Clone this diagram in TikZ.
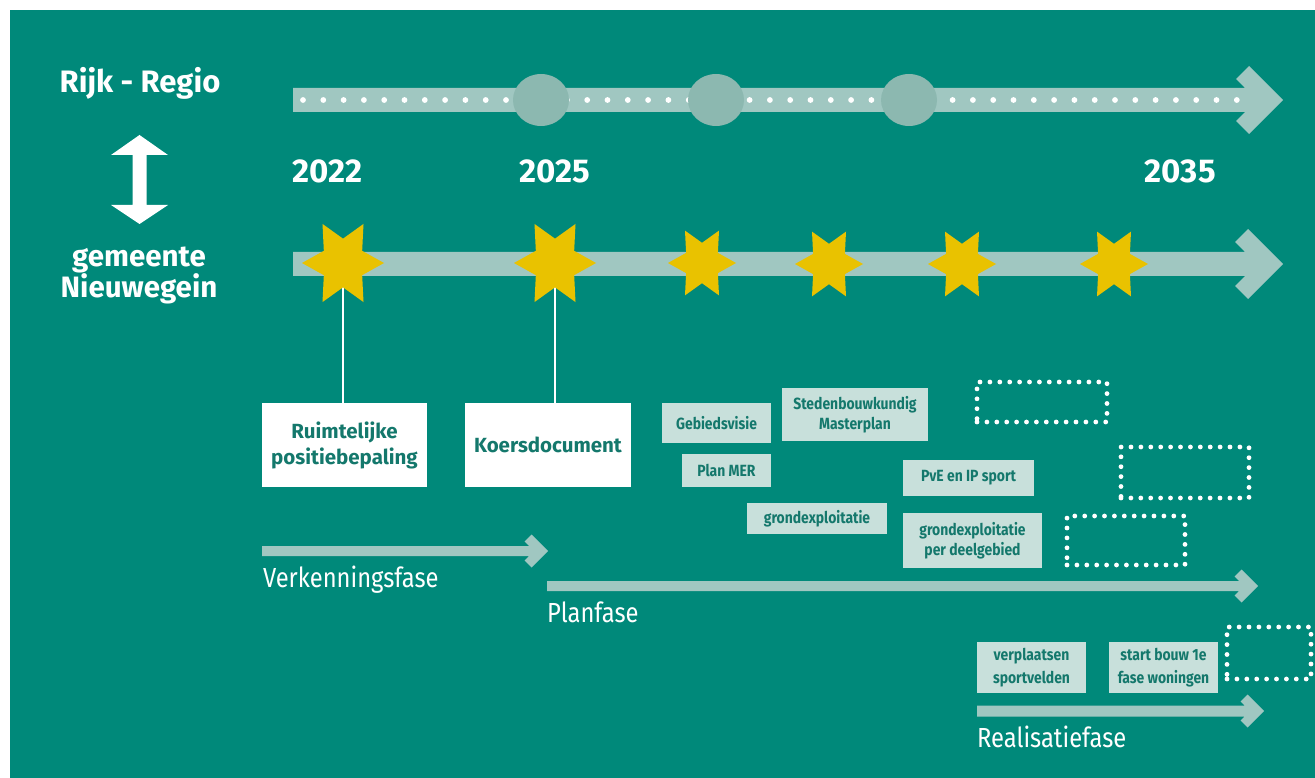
\documentclass[tikz,border=0pt]{standalone}
\usepackage{fontspec}
\setmainfont{Fira Sans}
\newfontfamily\cf[FakeStretch=0.86]{Fira Sans}
\newfontfamily\wf{Fira Sans}
\usetikzlibrary{calc}
\definecolor{bg}{HTML}{00897A}
\definecolor{barc}{HTML}{A0C7C1}
\definecolor{circc}{HTML}{8CB8B0}
\definecolor{lbc}{HTML}{C8E0DB}
\definecolor{boxtext}{HTML}{14786C}
\definecolor{starc}{HTML}{E9C200}
\newcommand\fatarrow[6]{% x0, y, xtip, bar half, head half, cut
  \fill[barc] (#1,#2-#4) -- ({#3-2*#6-#4},#2-#4) -- ({#3-#5-#6},{#2-#5+#6}) -- ({#3-#5},{#2-#5}) -- (#3,#2)
   -- ({#3-#5},{#2+#5}) -- ({#3-#5-#6},{#2+#5-#6}) -- ({#3-2*#6-#4},{#2+#4}) -- (#1,{#2+#4}) -- cycle;}
\tikzset{
  hstar/.pic={\fill[starc, yscale=1.1] (0:1) \foreach \a in {0,60,...,300}{ -- (\a:1) -- ({\a+30}:0.54)} -- cycle;},
  wbox/.style={fill=white, text=boxtext, font=\wf\bfseries\fontsize{20.5}{26}\selectfont, align=center, inner sep=0pt},
  lbox/.style={fill=lbc, text=boxtext, font=\cf\bfseries\fontsize{16.2}{19.5}\selectfont, align=center, inner sep=0pt},
  rbox/.style={lbox, font=\cf\bfseries\fontsize{16.2}{23}\selectfont},
  dotbox/.style={draw=white, line width=4.8pt, line cap=round, dash pattern=on 0pt off 9.9pt, inner sep=0pt},
  big/.style={text=white, font=\wf\bfseries\fontsize{31}{31}\selectfont, inner sep=0pt},
  year/.style={text=white, font=\wf\bfseries\fontsize{33}{33}\selectfont, inner sep=0pt},
  side/.style={text=white, font=\wf\bfseries\fontsize{29.5}{31}\selectfont, inner sep=0pt, align=center},
  phase/.style={text=white, font=\cf\fontsize{27.6}{27.6}\selectfont, inner sep=0pt, anchor=base west},
  stem/.style={draw=white, line width=1.6pt}
}
\begin{document}
\begin{tikzpicture}[x=1pt,y=-1pt]
\useasboundingbox (0,0) rectangle (1315,778);
\fill[white] (0,0) rectangle (1315,778);
\fill[bg] (10,10) rectangle (1315,778);

% left labels
\node[big, anchor=base] (rijk) at (140,93) {Rijk - Regio};
\fill[white] (139.5,135) -- (168,155) -- (146.5,155) -- (146.5,205) -- (168,205) -- (139.5,224)
  -- (111,205) -- (132.5,205) -- (132.5,155) -- (111,155) -- cycle;
\node[side, anchor=base] (gem) at (139,267) {gemeente};
\node[side, anchor=base] (nwg) at (139,298) {Nieuwegein};

% top timeline (Rijk - Regio)
\fatarrow{293}{100}{1283}{12}{34}{13}
\foreach \i in {0,...,46} \fill[white] ({303+20.3*\i},100) circle (2.9pt);
\foreach \cx in {541,716,909} \fill[circc] (\cx,100) ellipse [x radius=28pt, y radius=26pt];

% years
\node[year, anchor=base west] (y22) at (292,183) {2022};
\node[year, anchor=base west] (y25) at (519,183) {2025};
\node[year, anchor=base east] (y35) at (1216,183) {2035};

% lower timeline (gemeente)
\fatarrow{293}{264}{1283}{12}{35}{13}

% boxes under the stars
\node[wbox, minimum width=165pt, minimum height=84pt] (rp) at (344.5,445) {Ruimtelijke\\positiebepaling};
\node[wbox, minimum width=166pt, minimum height=84pt] (kd) at (548,445) {Koersdocument};
\coordinate (s1) at (343,264);
\coordinate (s2) at (555,264);
\draw[stem] (s1) -- (s1 |- rp.north);
\draw[stem] (s2) -- (s2 |- kd.north);

\pic[scale=41] at (343,263) {hstar};
\pic[scale=41] at (555,263) {hstar};
\pic[scale=34] at (702,263) {hstar};
\pic[scale=34] at (829,264) {hstar};
\pic[scale=34] at (962,264) {hstar};
\pic[scale=34] at (1114,264) {hstar};

% plan phase boxes
\node[lbox, minimum width=109pt, minimum height=40pt] (geb) at (716.5,423) {Gebiedsvisie};
\node[lbox, minimum width=146pt, minimum height=53pt] (sted) at (855,414.5) {Stedenbouwkundig\\Masterplan};
\node[lbox, minimum width=89pt, minimum height=33pt] (mer) at (726.5,470.5) {Plan MER};
\node[lbox, minimum width=131pt, minimum height=36pt] (pve) at (968.5,478) {PvE en IP sport};
\node[lbox, minimum width=140pt, minimum height=31pt] (gr1) at (817,518.5) {grondexploitatie};
\node[lbox, minimum width=139pt, minimum height=55pt] (gr2) at (972.5,540.5) {grondexploitatie\\per deelgebied};

% dotted placeholders
\node[dotbox, minimum width=130pt, minimum height=40pt] (d1) at (1042,402) {};
\node[dotbox, minimum width=128pt, minimum height=51pt] (d2) at (1185,472.5) {};
\node[dotbox, minimum width=118pt, minimum height=49pt] (d3) at (1126,540.5) {};
\node[dotbox, minimum width=84pt, minimum height=52pt] (d4) at (1269,653) {};

% phases
\fatarrow{262}{551}{548}{5}{16.5}{7}
\node[phase] (vf) at (263,587) {Verkenningsfase};
\fatarrow{547}{586}{1258}{5}{16.5}{7}
\node[phase] (pf) at (547,622) {Planfase};
\fatarrow{977}{711}{1264}{5.5}{16.5}{7}
\node[phase] (rf) at (977,747) {Realisatiefase};

\node[rbox, minimum width=109pt, minimum height=51pt] (vs) at (1031.5,667.5) {verplaatsen\\sportvelden};
\node[rbox, minimum width=109pt, minimum height=51pt] (sb) at (1163.5,667.5) {start bouw 1e\\fase woningen};
\end{tikzpicture}
\end{document}
